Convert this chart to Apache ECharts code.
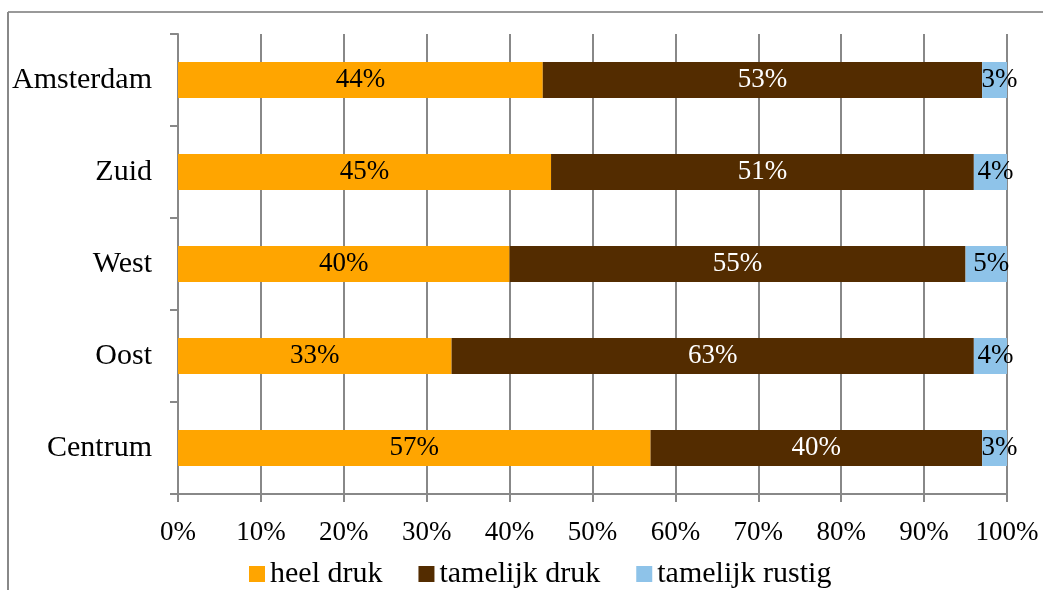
<!DOCTYPE html>
<html>
<head>
<meta charset="utf-8">
<script src="https://cdn.jsdelivr.net/npm/echarts@6/dist/echarts.min.js"></script>
<style>
html,body{margin:0;padding:0;background:#fff;}
#chart{width:1043px;height:590px;}
</style>
</head>
<body>
<div id="chart"></div>
<script>
const categories = ['Amsterdam', 'Zuid', 'West', 'Oost', 'Centrum'];
const heelDruk = [44, 45, 40, 33, 57];
const tamelijkDruk = [53, 51, 55, 63, 40];
const tamelijkRustig = [3, 4, 5, 4, 3];
const seriesNames = ['heel druk', 'tamelijk druk', 'tamelijk rustig'];
const tickLabels = ['0%', '10%', '20%', '30%', '40%', '50%', '60%', '70%', '80%', '90%', '100%'];

const FONT = 'Liberation Serif';
const FS_TEXT = 30;
const FS_NUM = 27;
const chart = echarts.init(document.getElementById('chart'), null, {renderer: 'canvas'});

function mkSeries(name, data, color, textColor, offset) {
  return {
    name: name,
    type: 'bar',
    stack: 'total',
    barWidth: 36,
    data: data,
    itemStyle: {color: color},
    label: {
      show: true,
      position: 'inside',
      offset: offset,
      formatter: '{c}%',
      color: textColor,
      fontFamily: FONT,
      fontSize: FS_NUM
    },
    emphasis: {disabled: true}
  };
}

chart.setOption({
  animation: false,
  backgroundColor: '#fff',
  grid: {left: 178, right: 36, top: 34, bottom: 96, containLabel: false},
  legend: {
    data: seriesNames,
    bottom: 0,
    left: 249,
    itemWidth: 16,
    itemHeight: 16,
    itemGap: 36,
    icon: 'rect',
    textStyle: {fontFamily: FONT, fontSize: FS_TEXT, color: '#000', padding: [0, 0, 0, 0]},
    padding: [0, 0, 1, 0]
  },
  xAxis: {
    type: 'value',
    min: 0,
    max: 100,
    interval: 10,
    axisLine: {show: true, lineStyle: {color: '#888', width: 2}},
    axisTick: {show: true, length: 8, lineStyle: {color: '#888', width: 2}},
    splitLine: {show: true, lineStyle: {color: '#888', width: 2}},
    axisLabel: {
      margin: 25,
      fontFamily: FONT,
      fontSize: FS_NUM,
      color: '#000',
      formatter: function (v) { return tickLabels[Math.round(v / 10)]; }
    }
  },
  yAxis: {
    type: 'category',
    data: categories,
    inverse: true,
    axisLine: {show: true, lineStyle: {color: '#888', width: 2}},
    axisTick: {show: true, length: 8, lineStyle: {color: '#888', width: 2}},
    axisLabel: {margin: 26, fontFamily: FONT, fontSize: FS_TEXT, color: '#000'}
  },
  graphic: [
    {type: 'line', shape: {x1: 8, y1: 12, x2: 1043, y2: 12}, style: {stroke: '#999', lineWidth: 2}},
    {type: 'line', shape: {x1: 8, y1: 12, x2: 8, y2: 590}, style: {stroke: '#888', lineWidth: 2}}
  ],
  series: [
    mkSeries(seriesNames[0], heelDruk, '#FFA500', '#000', [0, 0]),
    mkSeries(seriesNames[1], tamelijkDruk, '#532C00', '#fff', [0, 0]),
    mkSeries(seriesNames[2], tamelijkRustig, '#8EC3E9', '#000', [5, 0])
  ]
});
</script>
</body>
</html>
